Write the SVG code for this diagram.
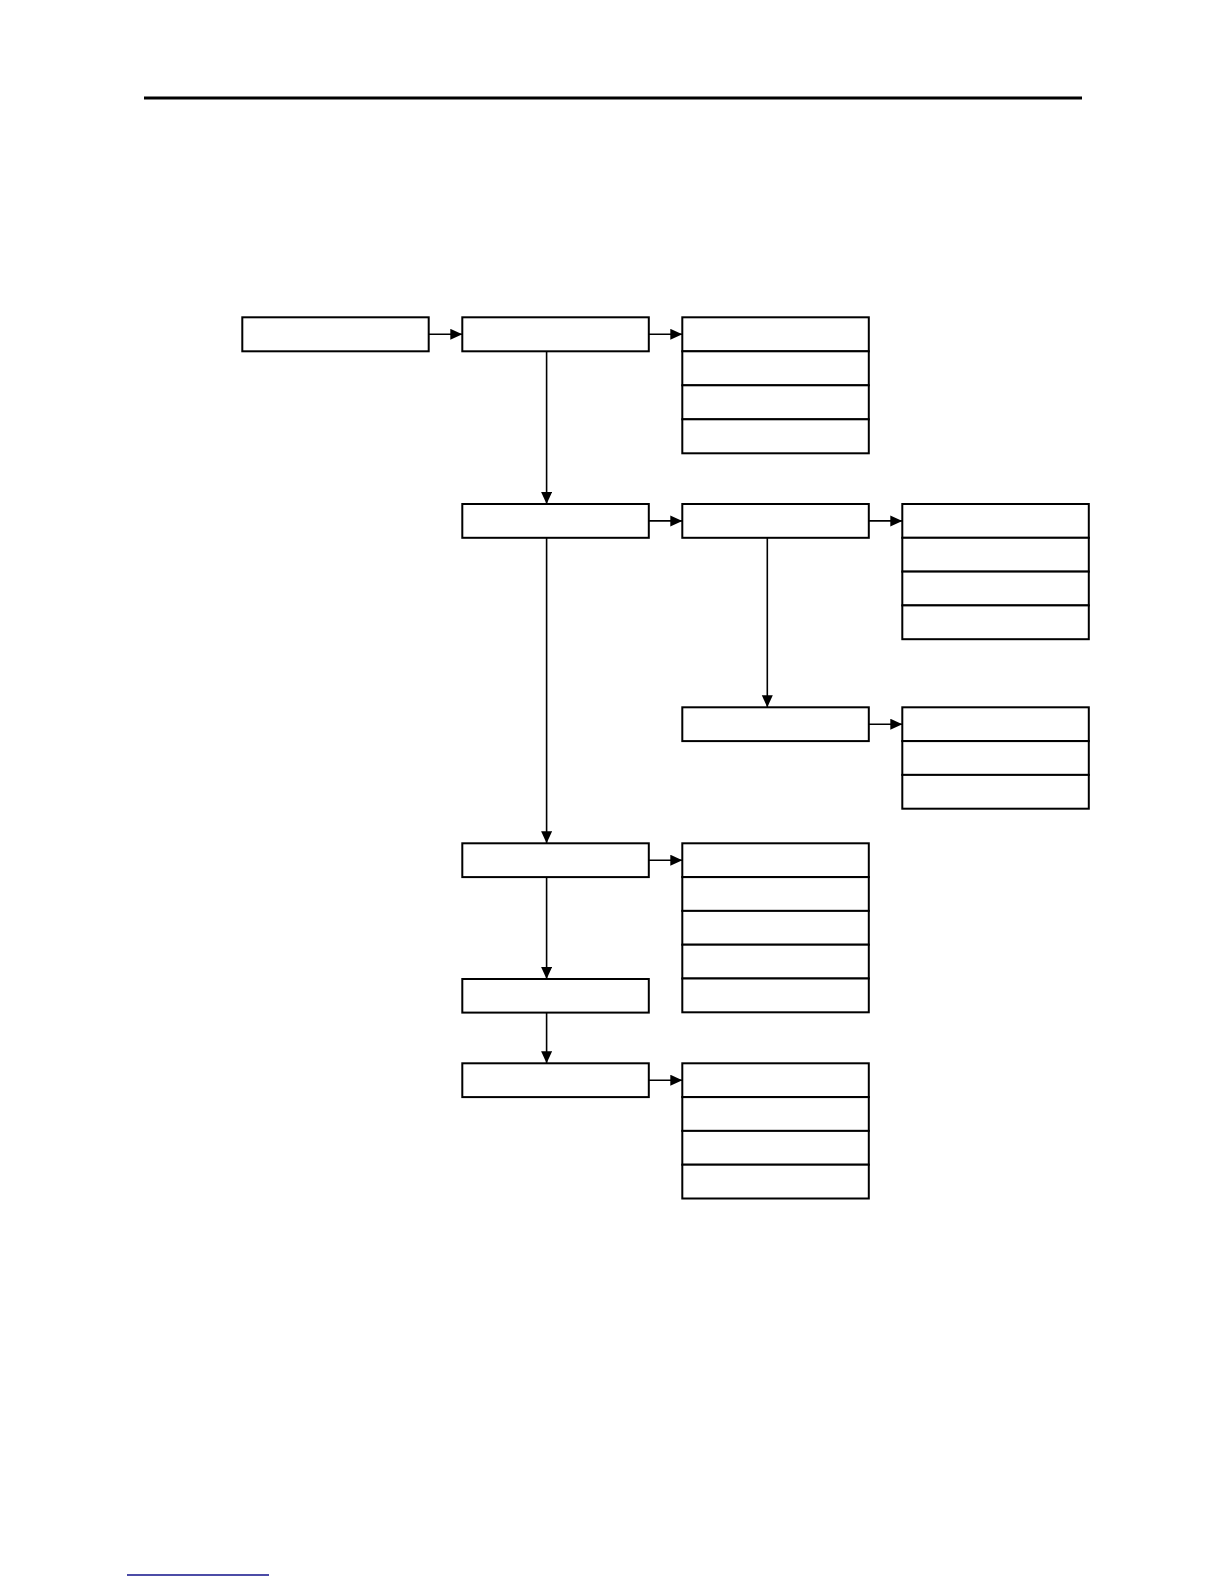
<svg xmlns="http://www.w3.org/2000/svg" width="1224" height="1584" viewBox="0 0 1224 1584">
<style>
.box{fill:#fff;stroke:#000;stroke-width:2}
.cn{fill:none;stroke:#000;stroke-width:1.6}
</style>
<defs>
<marker id="ah" markerUnits="userSpaceOnUse" markerWidth="13" markerHeight="12" refX="12" refY="5.5" orient="auto">
<path d="M0,0 L12,5.5 L0,11 z" fill="#000"/>
</marker>
</defs>
<rect width="1224" height="1584" fill="#fff"/>
<line x1="144" y1="98" x2="1082" y2="98" stroke="#000" stroke-width="3"/>
<line x1="127" y1="1575" x2="269" y2="1575" stroke="#10108a" stroke-width="1.6"/>
<g id="connectors">
<line class="cn" x1="428.7" y1="334.3" x2="462.3" y2="334.3" marker-end="url(#ah)"/>
<line class="cn" x1="648.8" y1="334.3" x2="682.3" y2="334.3" marker-end="url(#ah)"/>
<line class="cn" x1="546.6" y1="351.3" x2="546.6" y2="504" marker-end="url(#ah)"/>
<line class="cn" x1="648.8" y1="520.9" x2="682.3" y2="520.9" marker-end="url(#ah)"/>
<line class="cn" x1="868.8" y1="520.9" x2="902.3" y2="520.9" marker-end="url(#ah)"/>
<line class="cn" x1="546.6" y1="537.8" x2="546.6" y2="843.3" marker-end="url(#ah)"/>
<line class="cn" x1="767.3" y1="537.8" x2="767.3" y2="707.3" marker-end="url(#ah)"/>
<line class="cn" x1="868.8" y1="724.2" x2="902.3" y2="724.2" marker-end="url(#ah)"/>
<line class="cn" x1="648.8" y1="860.2" x2="682.3" y2="860.2" marker-end="url(#ah)"/>
<line class="cn" x1="546.6" y1="877.1" x2="546.6" y2="979" marker-end="url(#ah)"/>
<line class="cn" x1="546.6" y1="1012.6" x2="546.6" y2="1063.3" marker-end="url(#ah)"/>
<line class="cn" x1="648.8" y1="1080.2" x2="682.3" y2="1080.2" marker-end="url(#ah)"/>
</g>
<g id="n1"><rect class="box" x="242.3" y="317.3" width="186.4" height="34"/></g>
<g id="n2"><rect class="box" x="462.3" y="317.3" width="186.5" height="34"/></g>
<g id="stackA">
<rect class="box" x="682.3" y="317.3" width="186.5" height="34"/>
<rect class="box" x="682.3" y="351.3" width="186.5" height="34"/>
<rect class="box" x="682.3" y="385.3" width="186.5" height="34"/>
<rect class="box" x="682.3" y="419.3" width="186.5" height="34"/>
</g>
<g id="n3"><rect class="box" x="462.3" y="504" width="186.5" height="33.8"/></g>
<g id="n4"><rect class="box" x="682.3" y="504" width="186.5" height="33.8"/></g>
<g id="stackB">
<rect class="box" x="902.3" y="504" width="186.5" height="33.8"/>
<rect class="box" x="902.3" y="537.8" width="186.5" height="33.8"/>
<rect class="box" x="902.3" y="571.6" width="186.5" height="33.8"/>
<rect class="box" x="902.3" y="605.4" width="186.5" height="33.8"/>
</g>
<g id="n5"><rect class="box" x="682.3" y="707.3" width="186.5" height="33.8"/></g>
<g id="stackC">
<rect class="box" x="902.3" y="707.3" width="186.5" height="33.8"/>
<rect class="box" x="902.3" y="741.1" width="186.5" height="33.8"/>
<rect class="box" x="902.3" y="774.9" width="186.5" height="33.8"/>
</g>
<g id="n6"><rect class="box" x="462.3" y="843.3" width="186.5" height="33.8"/></g>
<g id="stackD">
<rect class="box" x="682.3" y="843.3" width="186.5" height="33.8"/>
<rect class="box" x="682.3" y="877.1" width="186.5" height="33.8"/>
<rect class="box" x="682.3" y="910.9" width="186.5" height="33.8"/>
<rect class="box" x="682.3" y="944.7" width="186.5" height="33.8"/>
<rect class="box" x="682.3" y="978.5" width="186.5" height="33.8"/>
</g>
<g id="n7"><rect class="box" x="462.3" y="979" width="186.5" height="33.6"/></g>
<g id="n8"><rect class="box" x="462.3" y="1063.3" width="186.5" height="33.8"/></g>
<g id="stackE">
<rect class="box" x="682.3" y="1063.3" width="186.5" height="33.8"/>
<rect class="box" x="682.3" y="1097.1" width="186.5" height="33.8"/>
<rect class="box" x="682.3" y="1130.9" width="186.5" height="33.8"/>
<rect class="box" x="682.3" y="1164.7" width="186.5" height="33.8"/>
</g>
</svg>
